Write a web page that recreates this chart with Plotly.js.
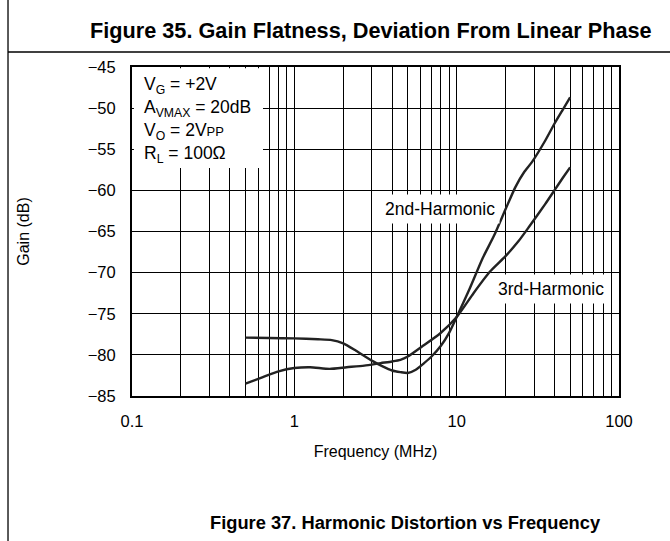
<!DOCTYPE html>
<html>
<head>
<meta charset="utf-8">
<script src="https://cdn.plot.ly/plotly-3.0.1.min.js"></script>
<style>html,body{margin:0;padding:0;background:#fff;}#chart{width:670px;height:541px;}</style>
</head>
<body>
<div id="chart"></div>
<script>
// ---- data ----
const freq2nd = [0.5, 0.7, 1, 1.4, 1.7, 2.0, 2.4, 3.0, 3.5, 4.0, 4.5, 5.0, 5.6, 6.3, 7.0, 8.0, 9.0, 10, 12, 14.5, 17, 20, 23, 26, 29, 35, 40, 45, 50];
const gain2nd = [-77.9, -77.95, -78.0, -78.1, -78.2, -78.6, -79.5, -80.7, -81.4, -81.9, -82.1, -82.2, -81.8, -81.0, -80.2, -78.9, -77.3, -75.4, -72.0, -68.2, -65.5, -62.3, -59.6, -57.8, -56.6, -54.0, -51.9, -50.2, -48.7];
const freq3rd = [0.5, 0.64, 0.8, 1.0, 1.25, 1.65, 2.1, 2.7, 3.4, 4.0, 4.5, 5.0, 6.2, 7.9, 10, 12.7, 16, 20, 24, 28, 35, 40, 45, 50];
const gain3rd = [-83.5, -82.7, -82.0, -81.6, -81.5, -81.7, -81.5, -81.3, -81.0, -80.8, -80.6, -80.2, -78.9, -77.4, -75.4, -72.5, -69.9, -68.0, -66.2, -64.4, -61.7, -60.0, -58.5, -57.2];
const seriesNames = ["2nd-Harmonic", "3rd-Harmonic"];
const xTickVals = [0.1, 1, 10, 100];
const xTickText = ["0.1", "1", "10", "100"];
const xMinorVals = [0.2,0.3,0.4,0.5,0.6,0.7,0.8,0.9,2,3,4,5,6,7,8,9,20,30,40,50,60,70,80,90];
const yTickVals = [-85, -80, -75, -70, -65, -60, -55, -50, -45];
const yTickText = ["\u221285", "\u221280", "\u221275", "\u221270", "\u221265", "\u221260", "\u221255", "\u221250", "\u221245"];
const conditions = ["V<sub>G</sub> = +2V", "A<sub>VMAX</sub> = 20dB", "V<sub>O</sub> = 2V<span style=\"font-size:13px\">PP</span>", "R<sub>L</sub> = 100\u03A9"];
const topTitle = "<b>Figure 35. Gain Flatness, Deviation From Linear Phase</b>";
const bottomTitle = "<b>Figure 37. Harmonic Distortion vs Frequency</b>";

const FONT = "Liberation Sans, Arial, Helvetica, sans-serif";
const lineStyle = {color: "#222", width: 2.4, shape: "spline", smoothing: 0.6};

const traces = [
  {x: freq2nd, y: gain2nd, name: seriesNames[0], type: "scatter", mode: "lines", line: lineStyle, hoverinfo: "skip"},
  {x: freq3rd, y: gain3rd, name: seriesNames[1], type: "scatter", mode: "lines", line: lineStyle, hoverinfo: "skip"}
];

const condY = [0.945, 0.874, 0.803, 0.734];
const annotations = conditions.map((t, i) => ({
  text: t, xref: "paper", yref: "paper", x: 0.02, y: condY[i], xanchor: "left", yanchor: "middle",
  showarrow: false, font: {family: FONT, size: 17.5, color: "#000"}
}));
annotations.push(
  {text: seriesNames[0], xref: "paper", yref: "paper", x: 0.632, y: 0.568, xanchor: "center", yanchor: "middle",
   showarrow: false, bgcolor: "#fff", borderpad: 4, font: {family: FONT, size: 17.5, color: "#000"}},
  {text: seriesNames[1], xref: "paper", yref: "paper", x: 0.860, y: 0.324, xanchor: "center", yanchor: "middle",
   showarrow: false, bgcolor: "#fff", borderpad: 4, font: {family: FONT, size: 17.5, color: "#000"}},
  {text: topTitle, xref: "paper", yref: "paper", x: 0.491, y: 1.11, xanchor: "center", yanchor: "middle",
   showarrow: false, font: {family: FONT, size: 21.7, color: "#000"}},
  {text: bottomTitle, xref: "paper", yref: "paper", x: 0.561, y: -0.386, xanchor: "center", yanchor: "middle",
   showarrow: false, font: {family: FONT, size: 18.3, color: "#000"}}
);

const shapes = [
  {type: "rect", xref: "paper", yref: "paper", x0: 0.004, x1: 0.269, y0: 0.693, y1: 0.996, fillcolor: "#fff", line: {width: 0}, layer: "above"},
  {type: "line", xref: "paper", yref: "paper", x0: -0.2546, x1: -0.2546, y0: -0.45, y1: 1.21, line: {color: "#000", width: 1.3}},
  {type: "line", xref: "paper", yref: "paper", x0: -0.2546, x1: 1.11, y0: 1.0456, y1: 1.0456, line: {color: "#000", width: 1.3}}
];

const layout = {
  width: 670, height: 541,
  margin: {l: 132, r: 51, t: 67, b: 145},
  paper_bgcolor: "#fff", plot_bgcolor: "#fff",
  showlegend: false,
  font: {family: FONT, size: 15, color: "#000"},
  xaxis: {
    type: "log", range: [-1, 2], tickmode: "array", tickvals: xTickVals, ticktext: xTickText,
    showgrid: true, gridcolor: "#000", gridwidth: 1, zeroline: false,
    minor: {tickmode: "array", tickvals: xMinorVals, showgrid: true, gridcolor: "#000", gridwidth: 1, ticks: ""},
    showline: true, linecolor: "#000", linewidth: 2, mirror: true, ticks: "",
    ticklabelstandoff: 9,
    tickfont: {family: FONT, size: 16.5, color: "#000"},
    title: {text: "Frequency (MHz)", font: {family: FONT, size: 16, color: "#000"}, standoff: 17}
  },
  yaxis: {
    range: [-85, -45], tickmode: "array", tickvals: yTickVals, ticktext: yTickText,
    showgrid: true, gridcolor: "#000", gridwidth: 1, zeroline: false,
    showline: true, linecolor: "#000", linewidth: 2, mirror: true, ticks: "",
    ticklabelstandoff: 11,
    tickfont: {family: FONT, size: 16.5, color: "#000"},
    title: {text: "Gain (dB)", font: {family: FONT, size: 16, color: "#000"}, standoff: 54}
  },
  annotations: annotations,
  shapes: shapes
};

Plotly.newPlot("chart", traces, layout, {staticPlot: true, displayModeBar: false});
</script>
</body>
</html>
